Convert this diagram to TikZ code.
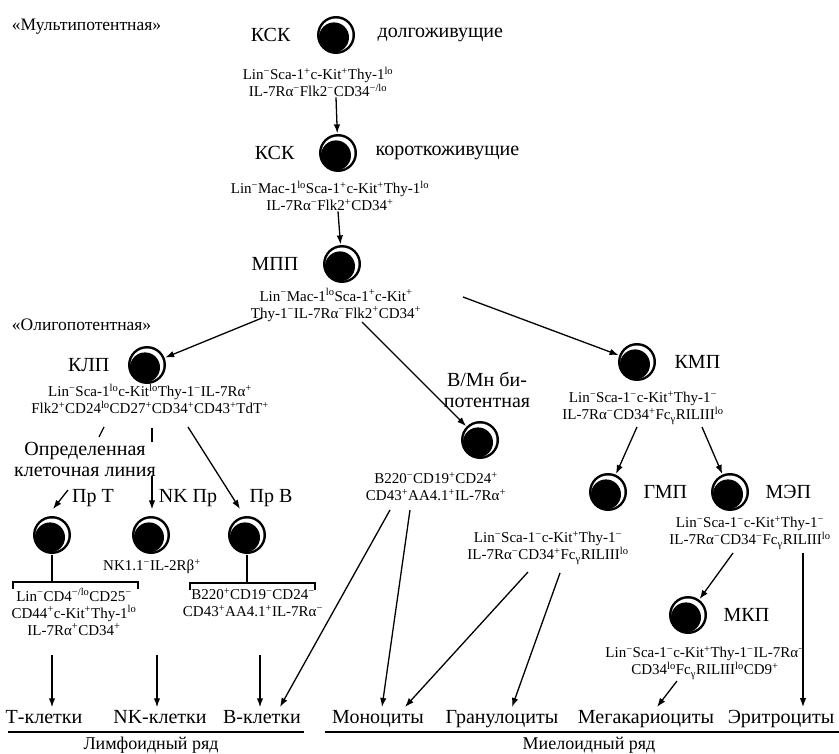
\documentclass[tikz,border=0pt]{standalone}
\usepackage{fontspec}
\setmainfont{Liberation Serif}
\usetikzlibrary{positioning, arrows.meta}
\tikzstyle{every node}=[font=\fontsize{20}{21}\selectfont]
\tikzstyle{cell}=[circle, fill=black, minimum size=38pt, inner sep=0pt,
  path picture={\fill[white] (path picture bounding box.center) circle (16.5pt);
    \fill[black] ([shift={(-2pt,-2.4pt)}]path picture bounding box.center) circle (15pt);}]
\tikzstyle{markers}=[align=center, inner sep=0pt, font=\fontsize{15}{17}\selectfont]
\tikzstyle{final}=[anchor=base, inner sep=2pt]
\tikzstyle{potency}=[anchor=west, font=\fontsize{17.5}{20}\selectfont]
\tikzstyle{series}=[anchor=base, inner sep=1pt, font=\fontsize{18}{20}\selectfont]
\newcommand{\sP}{\textsuperscript{+}}
\newcommand{\sM}{\textsuperscript{−}}
\newcommand{\sLo}{\textsuperscript{lo}}
\newcommand{\Fcg}{Fc\textsubscript{γ}}

\begin{document}
\begin{tikzpicture}[x=1pt, y=-1pt, >={Latex[length=9pt,width=6.5pt]}, line width=1.3pt, node distance=10pt]
\useasboundingbox (0,0) rectangle (839,754);
% cells
\node[cell] (c1) at (336,35) {};
\node[cell] (c2) at (338,153) {};
\node[cell] (c3) at (342,264) {};
\node[cell] (c4) at (147,365) {};
\node[cell] (c5) at (480,440) {};
\node[cell] (c6) at (637,362) {};
\node[cell] (c7) at (608,492) {};
\node[cell] (c8) at (730,492) {};
\node[cell] (c9) at (688,615) {};
\node[cell] (cT) at (52,535) {};
\node[cell] (cNK) at (151,535) {};
\node[cell] (cB) at (247,535) {};
% names
\node[potency] (multi) at (8,27) {«Мультипотентная»};
\node[left=22pt of c1] (k1) {КСК};
\node[right=18pt of c1] (lt) {долгоживущие};
\node[left=20pt of c2] (k2) {КСК};
\node[right=14pt of c2] (st) {короткоживущие};
\node[left=20pt of c3] (mpp) {МПП};
\node[potency] (oligo) at (8,325) {«Олигопотентная»};
\node[left=14pt of c4] (klp) {КЛП};
\node[align=center] (bmn) at (487,390) {В/Мн би-\\потентная};
\node[right=14pt of c6] (kmp) {КМП};
\node[right=12pt of c7] (gmp) {ГМП};
\node[right=12pt of c8] (mep) {МЭП};
\node[right=12pt of c9] (mkp) {МКП};
\node[align=center] (line) at (85,459) {Определенная\\клеточная линия};
\node (prT) at (93,498) {Пр Т};
\node (prNK) at (188,498) {NK Пр};
\node (prB) at (271,498) {Пр В};
% markers
\node[markers] (m1) at (318,82) {Lin\sM Sca-1\sP c-Kit\sP Thy-1\sLo\\IL-7Rα\sM Flk2\sM CD34\textsuperscript{−/lo}};
\node[markers] (m2) at (330,196) {Lin\sM Mac-1\sLo Sca-1\sP c-Kit\sP Thy-1\sLo\\IL-7Rα\sM Flk2\sP CD34\sP};
\node[markers] (m3) at (336,305) {Lin\sM Mac-1\sLo Sca-1\sP c-Kit\sP\\Thy-1\sM IL-7Rα\sM Flk2\sP CD34\sP};
\node[markers] (m4) at (150,399) {Lin\sM Sca-1\sLo c-Kit\sLo Thy-1\sM IL-7Rα\sP\\Flk2\sP CD24\sLo CD27\sP CD34\sP CD43\sP TdT\sP};
\node[markers] (mNK) at (152,567) {NK1.1\sM IL-2Rβ\sP};
\node[markers] (mT) at (74,612) {Lin\sM CD4\textsuperscript{−/lo}CD25\sM\\CD44\sP c-Kit\sP Thy-1\sLo\\IL-7Rα\sP CD34\sP};
\node[markers] (mB) at (253,603) {B220\sP CD19\sM CD24\sM\\CD43\sP AA4.1\sP IL-7Rα\sM};
\node[markers] (m5) at (436,487) {B220\sM CD19\sP CD24\sP\\CD43\sP AA4.1\sP IL-7Rα\sP};
\node[markers] (m6) at (643,408) {Lin\sM Sca-1\sM c-Kit\sP Thy-1\sM\\IL-7Rα\sM CD34\sP \Fcg RILIII\sLo};
\node[markers] (m7) at (548,548) {Lin\sM Sca-1\sM c-Kit\sP Thy-1\sM\\IL-7Rα\sM CD34\sP \Fcg RILIII\sLo};
\node[markers] (m8) at (750,533) {Lin\sM Sca-1\sM c-Kit\sP Thy-1\sM\\IL-7Rα\sM CD34\sM \Fcg RILIII\sLo};
\node[markers] (m9) at (705,663) {Lin\sM Sca-1\sM c-Kit\sP Thy-1\sM IL-7Rα\sM\\CD34\sLo \Fcg RILIII\sLo CD9\sP};
% mature cells
\node[final] (fT) at (44,723) {Т-клетки};
\node[final] (fNK) at (160,723) {NK-клетки};
\node[final] (fB) at (262,723) {В-клетки};
\node[final] (fMo) at (378,723) {Моноциты};
\node[final] (fGr) at (502,723) {Гранулоциты};
\node[final] (fMk) at (646,723) {Мегакариоциты};
\node[final] (fEr) at (781,723) {Эритроциты};
\node[series] (lymph) at (151,749) {Лимфоидный ряд};
\node[series] (myel) at (589,749) {Миелоидный ряд};
% free ends
\coordinate (s1) at (262,318);
\coordinate (s2) at (362,322);
\coordinate (s3) at (463,297);
\coordinate (t1a) at (104,427);
\coordinate (t1b) at (99,437);
\coordinate (t2a) at (68,490);
\coordinate (e1) at (53,509);
\coordinate (t3a) at (152,428);
\coordinate (t3b) at (152,442);
\coordinate (t4a) at (152,476);
\coordinate (t5a) at (188,427);
\coordinate (e3) at (240,509);
\coordinate (tbl) at (13,589);
\coordinate (tbt) at (13,582);
\coordinate (tbr) at (138,589);
\coordinate (bbl) at (190,590);
\coordinate (bbt) at (190,583);
\coordinate (bbr) at (315,590);
\coordinate (d1) at (52,655);
\coordinate (d2) at (157,655);
\coordinate (d3) at (260,655);
\coordinate (u1) at (390,510);
\coordinate (e4) at (280,707);
\coordinate (u2) at (410,510);
\coordinate (e5) at (382,707);
\coordinate (g1) at (528,572);
\coordinate (e6) at (405,707);
\coordinate (g2) at (560,573);
\coordinate (e7) at (512,707);
\coordinate (ks1) at (637,427);
\coordinate (ks2) at (702,427);
\coordinate (p1) at (733,553);
\coordinate (p2) at (803,553);
\coordinate (q1) at (677,681);
\coordinate (e9) at (657,707);
\coordinate (ll1) at (8,732);
\coordinate (ll2) at (304,732);
\coordinate (rl1) at (325,732);
\coordinate (rl2) at (839,732);
% connectors
\draw[->] (m1.south -| c1) -- (c2);
\draw[->] (m2.south -| c2) -- (c3);
\draw[->] (s1) -- (c4);
\draw[->] (s2) -- (c5);
\draw[->] (s3) -- (c6);
\draw (t1a) -- (t1b);
\draw[->] (t2a) -- (e1);
\draw (t3a) -- (t3b);
\draw[->, shorten >=6pt] (t4a) -- (t4a |- cNK.north);
\draw[->] (t5a) -- (e3);
\draw (cT) -- (cT |- tbt);
\draw (tbl) -- (tbt) -| (tbr);
\draw (cB) -- (cB |- bbt);
\draw (bbl) -- (bbt) -| (bbr);
\draw[->] (d1) -- (d1 |- fT.north);
\draw[->] (d2) -- (d2 |- fNK.north);
\draw[->] (d3) -- (d3 |- fB.north);
\draw[->] (u1) -- (e4);
\draw[->] (u2) -- (e5);
\draw[->] (g1) -- (e6);
\draw[->] (g2) -- (e7);
\draw[->] (ks1) -- (c7);
\draw[->] (ks2) -- (c8);
\draw[->] (p1) -- (c9);
\draw[->] (p2) -- (p2 |- fEr.north);
\draw[->] (q1) -- (e9);
\draw[line width=2.6pt] (ll1) -- (ll2);
\draw[line width=2.6pt] (rl1) -- (rl2);
\end{tikzpicture}
\end{document}
